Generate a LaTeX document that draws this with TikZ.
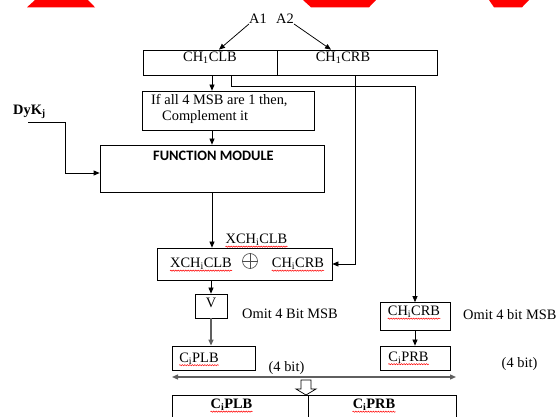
\documentclass[tikz,border=0pt]{standalone}
\usepackage{fontspec}
\setmainfont{Liberation Serif}
\newfontfamily\carlito{Carlito}
\usetikzlibrary{arrows.meta,decorations.pathmorphing}
\definecolor{lgray}{RGB}{95,95,95}
\begin{document}
\begin{tikzpicture}[x=1pt,y=-1pt,
  txt/.style={font=\fontsize{14.4}{17}\selectfont, inner sep=0pt},
  btxt/.style={font=\fontsize{14.4}{17}\selectfont\bfseries, inner sep=0pt},
  box/.style={draw, line width=0.75pt, inner sep=0pt},
  arr/.style={-{Triangle[length=6pt,width=5pt]}, line width=0.75pt},
  garr/.style={-{Triangle[length=6pt,width=5pt]}, line width=1.3pt, draw=lgray, fill=lgray},
  spell/.style={red, line width=0.5pt, decorate, decoration={snake, segment length=2.5pt, amplitude=0.6pt}}]
\useasboundingbox (0,0) rectangle (558,417);
\clip (0,0) rectangle (558,417);
% red decorations at top
\fill[red] (35,0) -- (88,0) -- (95,7.3) -- (27,7.3) -- cycle;
\fill[red] (303,0) -- (376,0) -- (369,7.3) -- (311,7.3) -- cycle;
\fill[red] (489,0) -- (529,0) -- (522,7.3) -- (494,7.3) -- cycle;
% helper coordinates
\coordinate (cA) at (212,0);
\coordinate (cB) at (231,0);
\coordinate (cC) at (355.5,0);
\coordinate (cL) at (219,0);
\coordinate (cR) at (331,0);
\coordinate (j1) at (415,86);
\coordinate (d1) at (28,122);
\coordinate (d2) at (65,173);
\coordinate (dl) at (172,377);
\coordinate (dr) at (456,377);
% inputs
\node[txt] (a1) at (258,19) {A1};
\node[txt] (a2) at (285,19) {A2};
% top box
\node[box, minimum width=134pt, minimum height=25pt] (tl) at (210,62.5) {};
\node[box, minimum width=160pt, minimum height=25pt] (tr) at (357,62.5) {};
\node[txt] (tlt) at (210,58) {CH\textsubscript{1}CLB};
\node[txt] (trt) at (343,58) {CH\textsubscript{1}CRB};
% condition box
\node[box, minimum width=172pt, minimum height=39pt] (cond) at (228,110.5) {};
\node[txt, anchor=west] (c1) at (151,101) {If all 4 MSB are 1 then,};
\node[txt, anchor=west] (c2) at (162,117) {Complement it};
% key
\node[btxt] (dyk) at (29.5,112) {DyK\textsubscript{j}};
% function module
\node[box, minimum width=224pt, minimum height=47pt] (fm) at (212,168.5) {};
\node[inner sep=0pt, font=\carlito\bfseries\fontsize{14.4}{17}\selectfont] (fmt) at (213.5,156) {FUNCTION MODULE};
% xor box
\node[txt] (xl) at (256.5,240) {XCH\textsubscript{i}CLB};
\node[box, minimum width=175pt, minimum height=32pt] (xor) at (244.5,264) {};
\node[txt] (x1) at (201,264) {XCH\textsubscript{i}CLB};
\node[circle, draw=black!70, line width=0.6pt, minimum size=15pt, inner sep=0pt] (xo) at (250,261) {};
\draw[black!70, line width=0.6pt] (xo.north) -- (xo.south) (xo.west) -- (xo.east);
\node[txt] (x2) at (298,264) {CH\textsubscript{i}CRB};
% V box
\node[box, minimum width=32pt, minimum height=24pt] (vbox) at (211,306) {};
\node[txt] (vt) at (211,302.5) {V};
\node[txt, anchor=west] (om1) at (242,314) {Omit 4 Bit MSB};
% right branch
\node[box, minimum width=70pt, minimum height=28pt] (crb) at (415,316.5) {};
\node[txt] (crbt) at (414,312) {CH\textsubscript{i}CRB};
\node[txt, anchor=west] (om2) at (463,315) {Omit 4 bit MSB};
% outputs
\node[box, minimum width=83pt, minimum height=24pt] (plb) at (213.5,358) {};
\node[txt] (plbt) at (199,358.5) {C\textsubscript{i}PLB};
\node[box, minimum width=70pt, minimum height=24pt] (prb) at (415,358) {};
\node[txt] (prbt) at (408.5,357.5) {C\textsubscript{i}PRB};
\node[txt] (b1) at (286.5,368) {(4 bit)};
\node[txt] (b2) at (519.5,364) {(4 bit)};
% final box
\node[box, minimum width=136pt, minimum height=40pt] (bl) at (240,415) {};
\node[box, minimum width=148pt, minimum height=40pt] (br) at (382,415) {};
\node[btxt] (blt) at (231.5,405) {C\textsubscript{i}PLB};
\node[btxt] (brt) at (374,405) {C\textsubscript{i}PRB};
% connectors
\draw[arr] (a1.south west) -- (tl.north -| cL);
\draw[arr] (a2.south east) -- (tr.north -| cR);
\draw[arr] (tl.south -| cA) -- (cond.north -| cA);
\draw[arr] (tl.south -| cB) |- (j1) -- (crb.north);
\draw[arr] (tr.south -| cC) |- (xor.east);
\draw[arr] (d1) -| (d2) -- (fm.west |- d2);
\draw[arr] (cond.south -| cA) -- (fm.north -| cA);
\draw[arr] (fm.south -| cA) -- (xor.north -| cA);
\draw[arr] (xor.south -| vbox) -- (vbox.north);
\draw[garr] (vbox.south) -- (plb.north -| vbox);
\draw[arr] (crb.south) -- (prb.north);
\draw[{Triangle[length=6pt,width=5pt]}-{Triangle[length=6pt,width=5pt]}, line width=1.3pt, draw=lgray, fill=lgray] (dl) -- (dr);
% hollow arrow
\draw[line width=0.75pt, fill=white] (301,380) -- (311,380) -- (311,389) -- (316,389) -- (306,395) -- (296,389) -- (301,389) -- cycle;
% spelling underlines
\foreach \n in {xl,x1,x2,crbt,plbt,prbt,blt,brt}
  \draw[spell] ([yshift=-3pt]\n.base west) -- ([yshift=-3pt]\n.base east);
\end{tikzpicture}
\end{document}
